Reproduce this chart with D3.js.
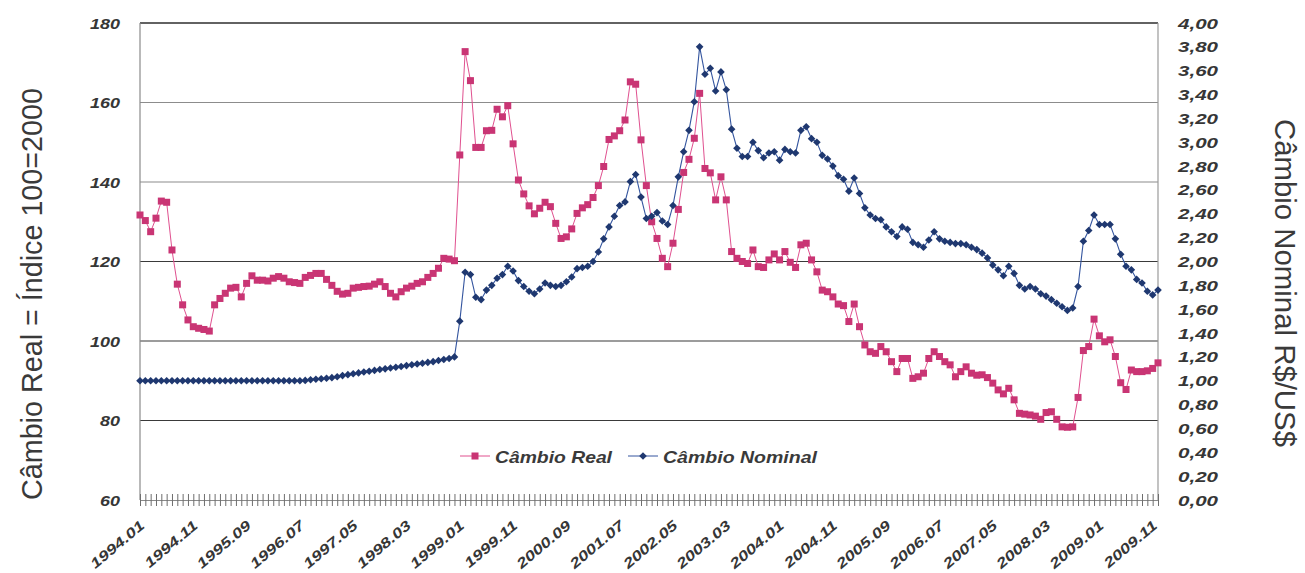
<!DOCTYPE html>
<html>
<head>
<meta charset="utf-8">
<script src="https://cdn.jsdelivr.net/npm/d3@7"></script>
<style>
  body { margin: 0; background: #fff; }
  svg { display: block; }
</style>
</head>
<body>
<svg id="chart" width="1305" height="573"></svg>
<script>
// Monthly series, Jan 1994 – Dec 2009
const months = [];
for (let y = 1994; y <= 2009; y++) {
  for (let m = 1; m <= 12; m++) months.push(y + "." + String(m).padStart(2, "0"));
}

// Câmbio Real (índice 100 = 2000), left axis
const cambioReal = [
  131.7, 130.3, 127.5, 130.9, 135.2, 134.9, 122.9, 114.3, 109.1, 105.3,
  103.6, 103.2, 102.9, 102.5, 109.1, 110.7, 112.0, 113.3, 113.5, 111.1,
  114.5, 116.4, 115.3, 115.3, 115.1, 115.8, 116.2, 115.8, 114.9, 114.7,
  114.5, 116.0, 116.5, 117.0, 117.0, 115.5, 114.0, 112.5, 111.8, 112.0,
  113.3, 113.5, 113.7, 113.8, 114.3, 114.9, 113.7, 112.0, 111.1, 112.4,
  113.3, 113.8, 114.5, 114.9, 116.0, 117.0, 118.3, 120.8, 120.6, 120.2,
  146.8, 172.8, 165.5, 148.7, 148.7, 152.9, 153.0, 158.3, 156.4, 159.2,
  149.6, 140.5, 137.0, 134.0, 132.0, 133.4, 134.9, 133.8, 129.6, 125.8,
  126.2, 128.2, 132.1, 133.5, 134.3, 136.1, 139.1, 143.9, 150.7, 151.6,
  152.9, 155.6, 165.2, 164.6, 150.6, 139.1, 130.0, 125.8, 120.8, 118.7,
  124.6, 133.1, 142.4, 145.7, 151.0, 162.3, 143.4, 142.3, 135.5, 141.3,
  135.5, 122.5, 120.8, 120.0, 119.5, 122.9, 118.7, 118.5, 120.4, 121.9,
  120.4, 122.5, 119.8, 118.5, 124.2, 124.6, 120.4, 117.4, 112.8, 112.4,
  111.1, 109.3, 108.9, 104.9, 109.3, 103.6, 99.0, 97.3, 96.9, 98.6,
  97.3, 94.8, 92.3, 95.6, 95.6, 90.6, 91.0, 91.9, 95.6, 97.3,
  96.1, 94.8, 94.0, 91.0, 92.3, 93.5, 91.9, 91.4, 91.5, 90.8,
  89.4, 87.7, 86.7, 88.1, 85.2, 81.8, 81.6, 81.4, 81.1, 80.3,
  82.0, 82.2, 80.3, 78.4, 78.3, 78.4, 85.8, 97.6, 98.6, 105.5,
  101.3, 99.8, 100.3, 96.1, 89.5, 87.8, 92.7, 92.3, 92.3, 92.5,
  93.1, 94.5
];

// Câmbio Nominal (R$/US$), right axis
const cambioNominal = [
  1.00, 1.00, 1.00, 1.00, 1.00, 1.00, 1.00, 1.00, 1.00, 1.00,
  1.00, 1.00, 1.00, 1.00, 1.00, 1.00, 1.00, 1.00, 1.00, 1.00,
  1.00, 1.00, 1.00, 1.00, 1.00, 1.00, 1.00, 1.00, 1.00, 1.00,
  1.000, 1.003, 1.008, 1.012, 1.017, 1.021, 1.026, 1.034, 1.043, 1.051,
  1.059, 1.066, 1.073, 1.080, 1.087, 1.094, 1.100, 1.107, 1.113, 1.120,
  1.127, 1.134, 1.140, 1.147, 1.154, 1.160, 1.170, 1.178, 1.187, 1.200,
  1.50, 1.91, 1.89, 1.70, 1.68, 1.76, 1.80, 1.86, 1.89, 1.96,
  1.92, 1.84, 1.79, 1.75, 1.73, 1.77, 1.82, 1.80, 1.79, 1.80,
  1.83, 1.87, 1.94, 1.95, 1.96, 2.00, 2.08, 2.19, 2.29, 2.38,
  2.47, 2.50, 2.67, 2.73, 2.54, 2.36, 2.38, 2.41, 2.34, 2.31,
  2.47, 2.71, 2.92, 3.10, 3.34, 3.80, 3.57, 3.62, 3.43, 3.59,
  3.44, 3.11, 2.95, 2.88, 2.88, 3.00, 2.93, 2.87, 2.91, 2.92,
  2.85, 2.94, 2.92, 2.91, 3.10, 3.13, 3.03, 3.00, 2.89, 2.86,
  2.80, 2.72, 2.69, 2.59, 2.70, 2.57, 2.45, 2.39, 2.36, 2.35,
  2.29, 2.25, 2.21, 2.29, 2.27, 2.16, 2.14, 2.12, 2.18, 2.25,
  2.19, 2.17, 2.16, 2.15, 2.15, 2.14, 2.12, 2.10, 2.07, 2.03,
  1.97, 1.93, 1.88, 1.96, 1.90, 1.80, 1.77, 1.79, 1.77, 1.73,
  1.71, 1.68, 1.65, 1.62, 1.59, 1.61, 1.79, 2.17, 2.26, 2.39,
  2.31, 2.31, 2.31, 2.19, 2.06, 1.96, 1.93, 1.85, 1.82, 1.75,
  1.72, 1.76
];

const xTickLabels = [
  "1994.01", "1994.11", "1995.09", "1996.07", "1997.05", "1998.03", "1999.01",
  "1999.11", "2000.09", "2001.07", "2002.05", "2003.03", "2004.01", "2004.11",
  "2005.09", "2006.07", "2007.05", "2008.03", "2009.01", "2009.11"
];
const leftTicks = [60, 80, 100, 120, 140, 160, 180];
const rightTicks = d3.range(0, 21).map(k => k / 5);

const seriesNames = ["Câmbio Real", "Câmbio Nominal"];

// Layout
const plot = { left: 140, right: 1158, top: 23, bottom: 500 };
const svg = d3.select("#chart");

const x = d3.scalePoint().domain(months).range([plot.left, plot.right]);
const yL = d3.scaleLinear().domain([60, 180]).range([plot.bottom, plot.top]);
const yR = d3.scaleLinear().domain([0, 4]).range([plot.bottom, plot.top]);

const pinkLine = "#e0508f", pinkMark = "#c93574";
const blueLine = "#34559f", blueMark = "#1f3870";
const labelFill = "#363636";
const tickFont = "'Liberation Sans', Arial, sans-serif";

// Horizontal gridlines
const gridTone = { 60: null, 80: "#3a3a3a", 100: "#3a3a3a", 120: "#3a3a3a", 140: "#8c8c8c", 160: "#8c8c8c", 180: "#2e2e2e" };
svg.append("g").selectAll("line")
  .data(leftTicks.filter(t => gridTone[t]))
  .join("line")
  .attr("x1", plot.left).attr("x2", plot.right)
  .attr("y1", d => yL(d)).attr("y2", d => yL(d))
  .attr("stroke", d => gridTone[d])
  .attr("stroke-width", d => d === 180 ? 1.6 : 1.1);

// Frame sides
svg.append("line").attr("x1", plot.left).attr("x2", plot.left)
  .attr("y1", plot.top).attr("y2", plot.bottom).attr("stroke", "#8a8a8a").attr("stroke-width", 1.2);
svg.append("line").attr("x1", plot.right).attr("x2", plot.right)
  .attr("y1", plot.top).attr("y2", plot.bottom).attr("stroke", "#9a9a9a").attr("stroke-width", 1.2);

// Bottom category axis: a tick on every month, label every 10 months
const xAxis = d3.axisBottom(x)
  .tickSizeInner(6).tickSizeOuter(0).tickPadding(0)
  .tickFormat(d => xTickLabels.includes(d) ? d : "");
const gx = svg.append("g").attr("transform", `translate(0,${plot.bottom})`).call(xAxis);
gx.select(".domain").attr("stroke", "#8a8a8a").attr("stroke-width", 1.2);
gx.selectAll(".tick line").attr("y1", -6).attr("y2", 6).attr("stroke", "#6e6e6e");
gx.selectAll(".tick text")
  .attr("font-family", tickFont).attr("font-size", 14).attr("font-weight", "bold")
  .attr("font-style", "italic").attr("fill", labelFill)
  .attr("text-anchor", "end").attr("x", 0).attr("y", 0).attr("dy", 0)
  .attr("transform", "translate(5,27) rotate(-40) scale(1.3,1)");

// Left value axis
const gl = svg.append("g").attr("transform", `translate(${plot.left},0)`)
  .call(d3.axisLeft(yL).tickValues(leftTicks).tickSize(0).tickPadding(20).tickFormat(d3.format("d")));
gl.select(".domain").remove();
gl.selectAll(".tick text")
  .attr("font-family", tickFont).attr("font-size", 14).attr("font-weight", "bold")
  .attr("font-style", "italic").attr("fill", labelFill)
  .attr("dy", 5).attr("x", -20)
  .attr("textLength", d => String(d).length * 10)
  .attr("lengthAdjust", "spacingAndGlyphs");

// Right value axis (comma decimals)
const commaFmt = d => d3.format(".2f")(d).replace(".", ",");
const gr = svg.append("g").attr("transform", `translate(${plot.right},0)`)
  .call(d3.axisRight(yR).tickValues(rightTicks).tickSize(0).tickPadding(20).tickFormat(commaFmt));
gr.select(".domain").remove();
gr.selectAll(".tick text")
  .attr("font-family", tickFont).attr("font-size", 14).attr("font-weight", "bold")
  .attr("font-style", "italic").attr("fill", labelFill)
  .attr("dy", 5).attr("x", 20)
  .attr("textLength", 40)
  .attr("lengthAdjust", "spacingAndGlyphs");

// Axis titles
svg.append("text")
  .attr("transform", `translate(41.5,294) rotate(-90)`)
  .attr("text-anchor", "middle")
  .attr("font-family", tickFont).attr("font-size", 29).attr("fill", "#3a3a3a")
  .attr("textLength", 412).attr("lengthAdjust", "spacingAndGlyphs")
  .text("Câmbio Real = Índice 100=2000");
svg.append("text")
  .attr("transform", `translate(1275,283) rotate(90)`)
  .attr("text-anchor", "middle")
  .attr("font-family", tickFont).attr("font-size", 29).attr("fill", "#3a3a3a")
  .attr("textLength", 328).attr("lengthAdjust", "spacingAndGlyphs")
  .text("Câmbio Nominal R$/US$");

// Series
const realPts = months.map((m, i) => ({ m, v: cambioReal[i] }));
const nomPts = months.map((m, i) => ({ m, v: cambioNominal[i] }));

const diamond = r => `M0,${-r}L${r},0L0,${r}L${-r},0Z`;

const gReal = svg.append("g");
gReal.append("path")
  .datum(realPts)
  .attr("fill", "none").attr("stroke", pinkLine).attr("stroke-width", 1)
  .attr("d", d3.line().x(d => x(d.m)).y(d => yL(d.v)));
gReal.selectAll("rect")
  .data(realPts).join("rect")
  .attr("x", d => x(d.m) - 3.5).attr("y", d => yL(d.v) - 3.5)
  .attr("width", 7).attr("height", 7)
  .attr("fill", pinkMark);

const gNom = svg.append("g");
gNom.append("path")
  .datum(nomPts)
  .attr("fill", "none").attr("stroke", blueLine).attr("stroke-width", 1.1)
  .attr("d", d3.line().x(d => x(d.m)).y(d => yR(d.v)));
gNom.selectAll("path.mark")
  .data(nomPts).join("path")
  .attr("class", "mark")
  .attr("transform", d => `translate(${x(d.m)},${yR(d.v)})`)
  .attr("d", diamond(3.8))
  .attr("fill", blueMark);

// Legend
const legend = svg.append("g").attr("transform", "translate(0,456)");
const legendItems = [
  { name: seriesNames[0], x0: 460, line: pinkLine, mark: pinkMark, shape: "square", tx: 495, tw: 117 },
  { name: seriesNames[1], x0: 628, line: blueLine, mark: blueMark, shape: "diamond", tx: 663, tw: 154 }
];
legendItems.forEach(it => {
  legend.append("line").attr("x1", it.x0).attr("x2", it.x0 + 30)
    .attr("y1", 0).attr("y2", 0).attr("stroke", it.line).attr("stroke-width", 1);
  if (it.shape === "square") {
    legend.append("rect").attr("x", it.x0 + 15 - 3.5).attr("y", -3.5)
      .attr("width", 7).attr("height", 7).attr("fill", it.mark);
  } else {
    legend.append("path").attr("transform", `translate(${it.x0 + 15},0)`)
      .attr("d", diamond(3.8)).attr("fill", it.mark);
  }
  legend.append("text")
    .attr("x", it.tx).attr("y", 6.5)
    .attr("font-family", tickFont).attr("font-size", 17).attr("font-weight", "bold")
    .attr("font-style", "italic").attr("fill", "#3a3a3a")
    .attr("textLength", it.tw).attr("lengthAdjust", "spacingAndGlyphs")
    .text(it.name);
});
</script>
</body>
</html>
